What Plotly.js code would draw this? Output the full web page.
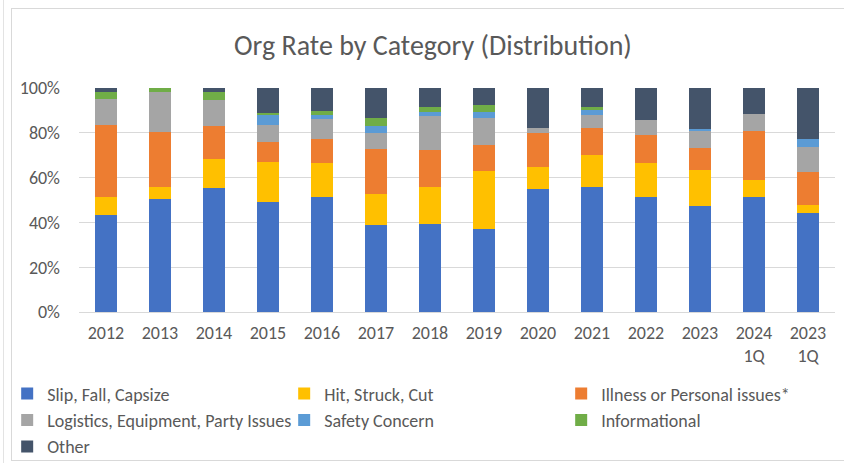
<!DOCTYPE html>
<html>
<head>
<meta charset="utf-8">
<script src="https://cdn.plot.ly/plotly-3.0.1.min.js"></script>
<style>
  html, body { margin: 0; padding: 0; background: #fff; overflow: hidden; }
  #outer { position: absolute; left: 3px; top: 0; width: 1px; height: 463px; background: #e3e3e3; }
  #frame { position: absolute; left: 11px; top: 8px; width: 840px; height: 451px; border: 1px solid #d9d9d9; }
  #chart { position: absolute; left: 0; top: 0; width: 844px; height: 463px; }
</style>
</head>
<body>
<div id="outer"></div>
<div id="frame"></div>
<div id="chart"></div>
<script>
const categories = ["2012","2013","2014","2015","2016","2017","2018","2019","2020","2021","2022","2023","2024<br>1Q","2023<br>1Q"];

const slipFallCapsize   = [43.4, 50.5, 55.4, 49.2, 51.4, 39.0, 39.1, 37.2, 54.7, 55.9, 51.4, 47.4, 51.4, 44.1];
const hitStruckCut      = [ 8.0,  5.4, 12.7, 17.6, 15.3, 13.9, 16.9, 25.8,  9.9, 14.3, 15.3, 16.2,  7.6,  3.8];
const illnessPersonal   = [32.2, 24.5, 15.0,  9.3, 10.5, 19.8, 16.3, 11.7, 15.1, 11.9, 12.4,  9.7, 21.9, 14.8];
const logisticsEquip    = [11.5, 17.8, 11.7,  7.2,  9.0,  7.0, 15.0, 12.1,  2.4,  5.8,  6.4,  7.7,  7.7, 11.1];
const safetyConcern     = [ 0.0,  0.0,  0.0,  4.6,  1.8,  3.4,  1.9,  2.4,  0.0,  2.3,  0.0,  0.6,  0.0,  3.5];
const informational     = [ 3.3,  1.8,  3.6,  1.1,  1.9,  3.3,  2.1,  3.2,  0.0,  1.1,  0.0,  0.0,  0.0,  0.0];
const other             = [ 1.6,  0.0,  1.6, 11.0, 10.1, 13.6,  8.7,  7.6, 17.9,  8.7, 14.5, 18.4, 11.4, 22.7];

const seriesNames = ["Slip, Fall, Capsize", "Hit, Struck, Cut", "Illness or Personal issues*",
                     "Logistics, Equipment, Party Issues", "Safety Concern", "Informational", "Other"];
const seriesValues = [slipFallCapsize, hitStruckCut, illnessPersonal, logisticsEquip, safetyConcern, informational, other];
const seriesColors = ["#4472C4", "#FFC000", "#ED7D31", "#A5A5A5", "#5B9BD5", "#70AD47", "#44546A"];

const FONT = "Calibri, Carlito, 'Liberation Sans', Arial, sans-serif";

const traces = seriesNames.map((name, i) => {
  const vals = seriesValues[i];
  return {
    type: "bar",
    name: name,
    x: categories,
    y: vals.map((v, j) => {
      let tot = 0;
      seriesValues.forEach(s => tot += s[j]);
      return v / tot;
    }),
    marker: { color: seriesColors[i], line: { width: 0 } },
    hoverinfo: "name+y"
  };
});

const layout = {
  width: 844,
  height: 463,
  paper_bgcolor: "rgba(0,0,0,0)",
  plot_bgcolor: "rgba(0,0,0,0)",
  barmode: "stack",
  bargap: 0.59,
  margin: { l: 79, r: 9, t: 88, b: 151, autoexpand: false },
  font: { family: FONT, size: 18, color: "#595959" },
  title: {
    text: "Org Rate by Category (Distribution)",
    font: { family: FONT, size: 28, color: "#595959" },
    x: 0.513, xanchor: "center",
    y: 0.903, yanchor: "middle", yref: "container"
  },
  xaxis: {
    type: "category",
    showgrid: false,
    showline: false,
    zeroline: false,
    ticks: "",
    tickfont: { family: FONT, size: 18, color: "#595959" },
    ticklabelstandoff: 8
  },
  yaxis: {
    range: [0, 1],
    tickvals: [0, 0.2, 0.4, 0.6, 0.8, 1.0],
    ticktext: ["0%", "20%", "40%", "60%", "80%", "100%"],
    showgrid: true,
    gridcolor: "#d9d9d9",
    gridwidth: 1,
    zeroline: true,
    zerolinecolor: "#d9d9d9",
    zerolinewidth: 1,
    showline: false,
    ticks: "",
    tickfont: { family: FONT, size: 18, color: "#595959" },
    ticklabelstandoff: 18
  },
  legend: {
    orientation: "h",
    x: -0.095, xanchor: "left",
    y: -0.283, yanchor: "top",
    font: { family: FONT, size: 18, color: "#595959" },
    entrywidth: 232,
    entrywidthmode: "pixels",
    traceorder: "normal",
    itemwidth: 30,
    tracegroupgap: 0,
    bgcolor: "rgba(0,0,0,0)"
  },
  showlegend: true
};

Plotly.newPlot("chart", traces, layout, { displayModeBar: false, staticPlot: true });
</script>
</body>
</html>
